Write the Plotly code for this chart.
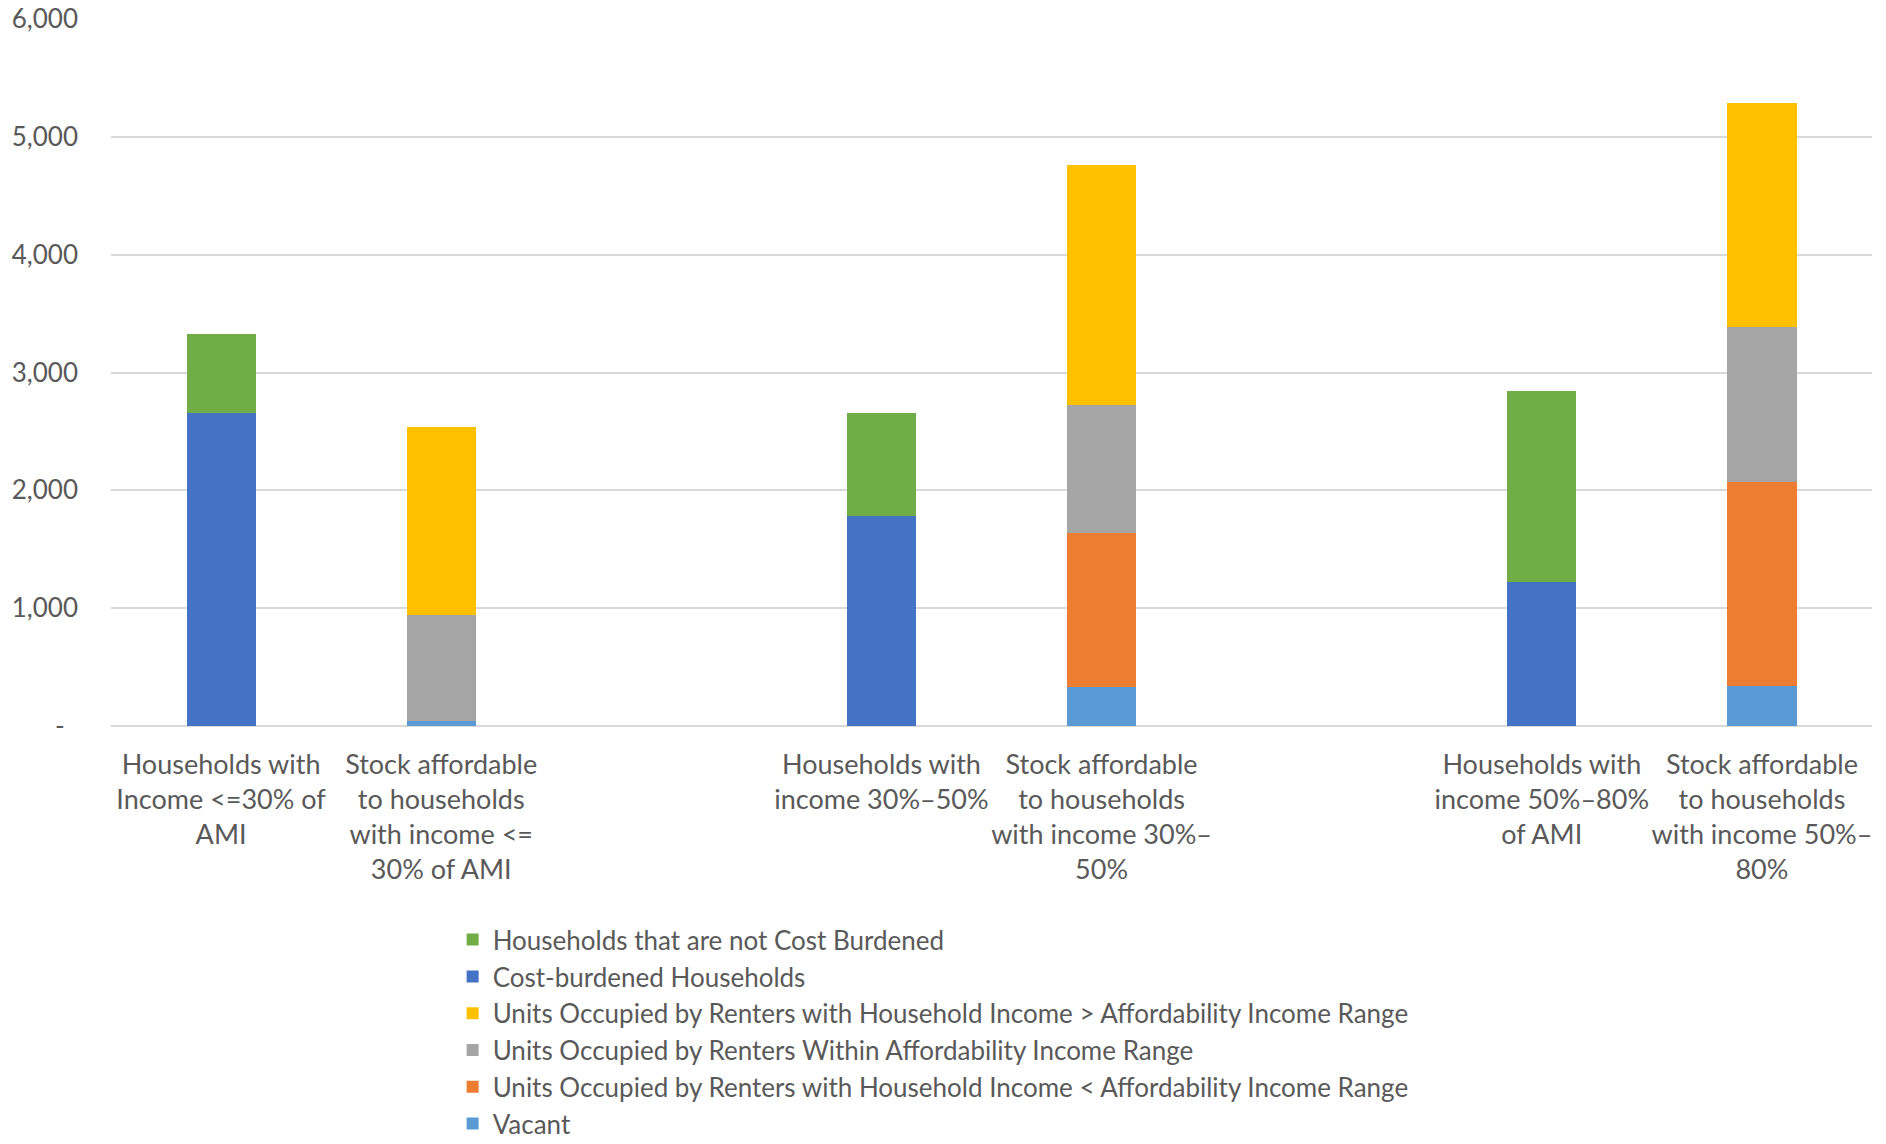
import plotly.graph_objects as go

# Category labels (two bars per income band, spacer between bands)
household_labels = [
    "Households with<br>Income &lt;=30% of<br>AMI",
    "Households with<br>income 30%–50%",
    "Households with<br>income 50%–80%<br>of AMI",
]
stock_labels = [
    "Stock affordable<br>to households<br>with income &lt;=<br>30% of AMI",
    "Stock affordable<br>to households<br>with income 30%–<br>50%",
    "Stock affordable<br>to households<br>with income 50%–<br>80%",
]
spacers = [" ", "  "]

# Household counts
cost_burdened = [2660, 1780, 1224]
not_cost_burdened = [665, 880, 1621]

# Rental stock counts
vacant = [45, 331, 343]
renters_below = [0, 1305, 1731]
renters_within = [900, 1091, 1316]
renters_above = [1595, 2038, 1900]

y_ticks = [0, 1000, 2000, 3000, 4000, 5000, 6000]
y_tick_text = ["-\u00a0\u00a0", "1,000", "2,000", "3,000", "4,000", "5,000", "6,000"]

category_order = [
    household_labels[0], stock_labels[0], spacers[0],
    household_labels[1], stock_labels[1], spacers[1],
    household_labels[2], stock_labels[2],
]

FONT = "Lato"
TEXT = "#595959"
BAR_W = 0.314

series = [
    # (name, x, y, color, legend rank)
    ("Cost-burdened Households", household_labels, cost_burdened, "#4472C4", 2),
    ("Households that are not Cost Burdened", household_labels, not_cost_burdened, "#70AD47", 1),
    ("Vacant", stock_labels, vacant, "#5B9BD5", 6),
    ("Units Occupied by Renters with Household Income &lt; Affordability Income Range",
     stock_labels, renters_below, "#ED7D31", 5),
    ("Units Occupied by Renters Within Affordability Income Range",
     stock_labels, renters_within, "#A5A5A5", 4),
    ("Units Occupied by Renters with Household Income &gt; Affordability Income Range",
     stock_labels, renters_above, "#FFC000", 3),
]

fig = go.Figure()
for name, xs, ys, color, rank in series:
    fig.add_trace(go.Bar(
        x=xs, y=ys, name=name, width=BAR_W,
        marker=dict(color=color, line=dict(width=0)),
        legendrank=rank,
    ))

fig.update_layout(
    barmode="stack",
    width=1886, height=1144,
    margin=dict(l=111, r=14, t=19, b=418, pad=0, autoexpand=False),
    paper_bgcolor="white", plot_bgcolor="white",
    font=dict(family=FONT, size=27, color=TEXT),
    xaxis=dict(
        type="category", categoryorder="array", categoryarray=category_order,
        range=[-0.5, 7.5], showgrid=False, showline=False, ticks="",
        ticklabelstandoff=20, automargin=False,
        tickfont=dict(family=FONT, size=27, color=TEXT),
    ),
    yaxis=dict(
        range=[0, 6000], tickvals=y_ticks, ticktext=y_tick_text,
        showgrid=True, gridcolor="#d9d9d9", gridwidth=2,
        zeroline=True, zerolinecolor="#d9d9d9", zerolinewidth=2,
        showline=False, ticks="", ticklabelstandoff=32, automargin=False,
        tickfont=dict(family=FONT, size=26, color=TEXT),
    ),
    legend=dict(
        orientation="v", traceorder="normal",
        x=0.194, xanchor="left", y=-0.269, yanchor="top",
        font=dict(family=FONT, size=26, color=TEXT),
        bgcolor="rgba(0,0,0,0)", tracegroupgap=0, itemclick=False,
    ),
    showlegend=True,
)

fig.write_html("out.html")
